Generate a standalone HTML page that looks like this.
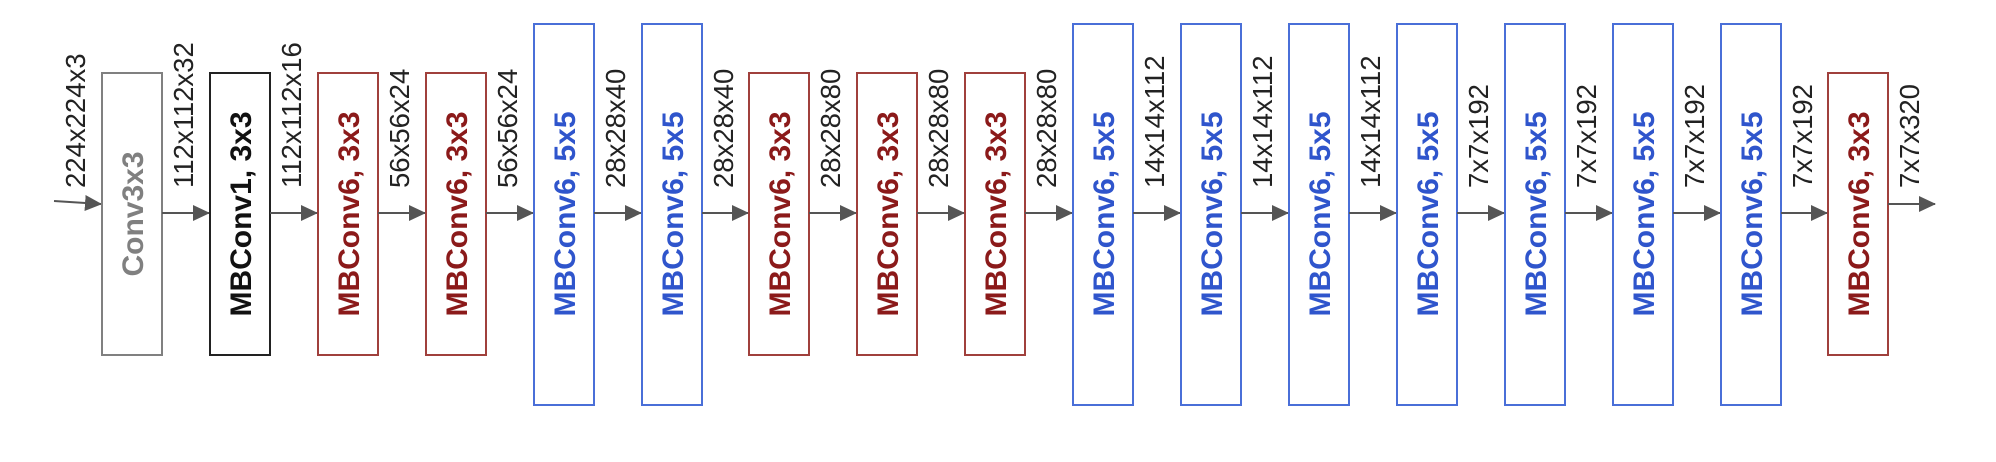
<!DOCTYPE html>
<html><head><meta charset="utf-8"><style>
html,body{margin:0;padding:0;background:#fff;}
svg{display:block;}
text{font-family:"Liberation Sans",Arial,sans-serif;}
.l{font-size:27.5px;fill:#222;}
.b{font-size:30px;font-weight:bold;text-anchor:middle;}
.g{fill:#808080}.k{fill:#111}.r{fill:#8b1a1a}.u{fill:#2f55cc}
.rg{fill:#fff;stroke:#808080;stroke-width:2}
.rk{fill:#fff;stroke:#222;stroke-width:2}
.rr{fill:#fff;stroke:#a0403c;stroke-width:2}
.ru{fill:#fff;stroke:#4a6fd8;stroke-width:2}
.a{stroke:#555;stroke-width:2}
</style></head><body>
<svg width="1996" height="462" viewBox="0 0 1996 462" xmlns="http://www.w3.org/2000/svg">
<defs>
<marker id="ah" markerWidth="17" markerHeight="16" refX="16" refY="8" orient="auto" markerUnits="userSpaceOnUse">
<path d="M0,0 L17,8 L0,16 Z" fill="#555"/>
</marker>
</defs>
<line class="a" x1="54" y1="201" x2="101" y2="204" marker-end="url(#ah)"/>
<text class="l" x="85" y="188" transform="rotate(-90 85 188)">224x224x3</text>

<rect class="rg" x="102" y="73" width="60" height="282"/>
<text class="b g" x="143" y="214" transform="rotate(-90 143 214)">Conv3x3</text>
<text class="l" x="193" y="188" transform="rotate(-90 193 188)">112x112x32</text>
<line class="a" x1="162" y1="213" x2="209" y2="213" marker-end="url(#ah)"/>

<rect class="rk" x="210" y="73" width="60" height="282"/>
<text class="b k" x="251" y="214" transform="rotate(-90 251 214)">MBConv1, 3x3</text>
<text class="l" x="301" y="188" transform="rotate(-90 301 188)">112x112x16</text>
<line class="a" x1="270" y1="213" x2="317" y2="213" marker-end="url(#ah)"/>

<rect class="rr" x="318" y="73" width="60" height="282"/>
<text class="b r" x="359" y="214" transform="rotate(-90 359 214)">MBConv6, 3x3</text>
<text class="l" x="409" y="188" transform="rotate(-90 409 188)">56x56x24</text>
<line class="a" x1="378" y1="213" x2="425" y2="213" marker-end="url(#ah)"/>

<rect class="rr" x="426" y="73" width="60" height="282"/>
<text class="b r" x="467" y="214" transform="rotate(-90 467 214)">MBConv6, 3x3</text>
<text class="l" x="517" y="188" transform="rotate(-90 517 188)">56x56x24</text>
<line class="a" x1="486" y1="213" x2="533" y2="213" marker-end="url(#ah)"/>

<rect class="ru" x="534" y="24" width="60" height="381"/>
<text class="b u" x="575" y="214" transform="rotate(-90 575 214)">MBConv6, 5x5</text>
<text class="l" x="625" y="188" transform="rotate(-90 625 188)">28x28x40</text>
<line class="a" x1="594" y1="213" x2="641" y2="213" marker-end="url(#ah)"/>

<rect class="ru" x="642" y="24" width="60" height="381"/>
<text class="b u" x="683" y="214" transform="rotate(-90 683 214)">MBConv6, 5x5</text>
<text class="l" x="733" y="188" transform="rotate(-90 733 188)">28x28x40</text>
<line class="a" x1="702" y1="213" x2="748" y2="213" marker-end="url(#ah)"/>

<rect class="rr" x="749" y="73" width="60" height="282"/>
<text class="b r" x="790" y="214" transform="rotate(-90 790 214)">MBConv6, 3x3</text>
<text class="l" x="840" y="188" transform="rotate(-90 840 188)">28x28x80</text>
<line class="a" x1="809" y1="213" x2="856" y2="213" marker-end="url(#ah)"/>

<rect class="rr" x="857" y="73" width="60" height="282"/>
<text class="b r" x="898" y="214" transform="rotate(-90 898 214)">MBConv6, 3x3</text>
<text class="l" x="948" y="188" transform="rotate(-90 948 188)">28x28x80</text>
<line class="a" x1="917" y1="213" x2="964" y2="213" marker-end="url(#ah)"/>

<rect class="rr" x="965" y="73" width="60" height="282"/>
<text class="b r" x="1006" y="214" transform="rotate(-90 1006 214)">MBConv6, 3x3</text>
<text class="l" x="1056" y="188" transform="rotate(-90 1056 188)">28x28x80</text>
<line class="a" x1="1025" y1="213" x2="1072" y2="213" marker-end="url(#ah)"/>

<rect class="ru" x="1073" y="24" width="60" height="381"/>
<text class="b u" x="1114" y="214" transform="rotate(-90 1114 214)">MBConv6, 5x5</text>
<text class="l" x="1164" y="188" transform="rotate(-90 1164 188)">14x14x112</text>
<line class="a" x1="1133" y1="213" x2="1180" y2="213" marker-end="url(#ah)"/>

<rect class="ru" x="1181" y="24" width="60" height="381"/>
<text class="b u" x="1222" y="214" transform="rotate(-90 1222 214)">MBConv6, 5x5</text>
<text class="l" x="1272" y="188" transform="rotate(-90 1272 188)">14x14x112</text>
<line class="a" x1="1241" y1="213" x2="1288" y2="213" marker-end="url(#ah)"/>

<rect class="ru" x="1289" y="24" width="60" height="381"/>
<text class="b u" x="1330" y="214" transform="rotate(-90 1330 214)">MBConv6, 5x5</text>
<text class="l" x="1380" y="188" transform="rotate(-90 1380 188)">14x14x112</text>
<line class="a" x1="1349" y1="213" x2="1396" y2="213" marker-end="url(#ah)"/>

<rect class="ru" x="1397" y="24" width="60" height="381"/>
<text class="b u" x="1438" y="214" transform="rotate(-90 1438 214)">MBConv6, 5x5</text>
<text class="l" x="1488" y="188" transform="rotate(-90 1488 188)">7x7x192</text>
<line class="a" x1="1457" y1="213" x2="1504" y2="213" marker-end="url(#ah)"/>

<rect class="ru" x="1505" y="24" width="60" height="381"/>
<text class="b u" x="1546" y="214" transform="rotate(-90 1546 214)">MBConv6, 5x5</text>
<text class="l" x="1596" y="188" transform="rotate(-90 1596 188)">7x7x192</text>
<line class="a" x1="1565" y1="213" x2="1612" y2="213" marker-end="url(#ah)"/>

<rect class="ru" x="1613" y="24" width="60" height="381"/>
<text class="b u" x="1654" y="214" transform="rotate(-90 1654 214)">MBConv6, 5x5</text>
<text class="l" x="1704" y="188" transform="rotate(-90 1704 188)">7x7x192</text>
<line class="a" x1="1673" y1="213" x2="1720" y2="213" marker-end="url(#ah)"/>

<rect class="ru" x="1721" y="24" width="60" height="381"/>
<text class="b u" x="1762" y="214" transform="rotate(-90 1762 214)">MBConv6, 5x5</text>
<text class="l" x="1812" y="188" transform="rotate(-90 1812 188)">7x7x192</text>
<line class="a" x1="1781" y1="213" x2="1827" y2="213" marker-end="url(#ah)"/>

<rect class="rr" x="1828" y="73" width="60" height="282"/>
<text class="b r" x="1869" y="214" transform="rotate(-90 1869 214)">MBConv6, 3x3</text>
<text class="l" x="1919" y="188" transform="rotate(-90 1919 188)">7x7x320</text>
<line class="a" x1="1888" y1="204" x2="1935" y2="204" marker-end="url(#ah)"/>
</svg>
</body></html>
